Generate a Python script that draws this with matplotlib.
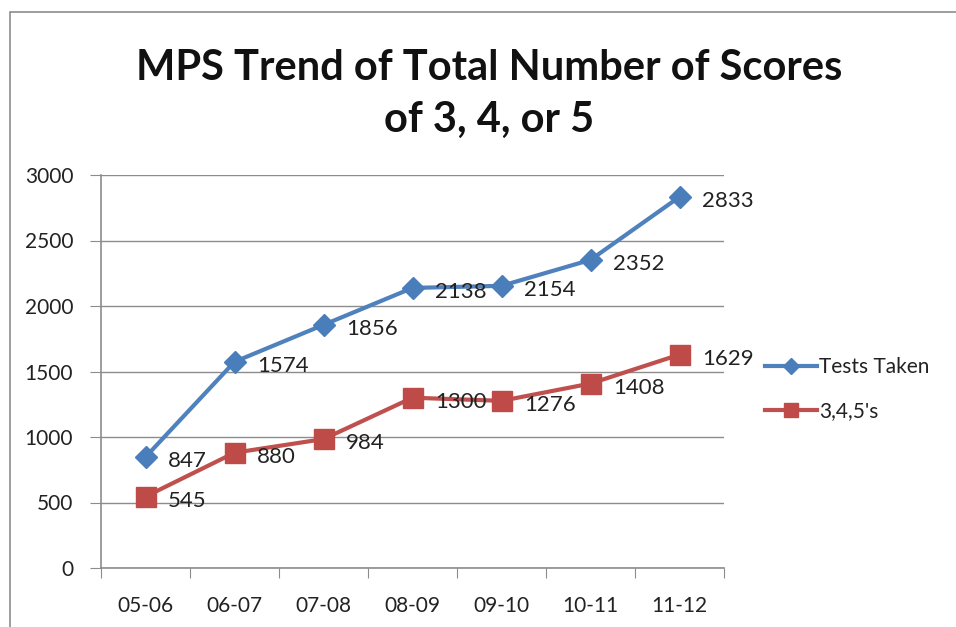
import matplotlib.pyplot as plt
from matplotlib.patches import Rectangle

# data
years = ['05-06', '06-07', '07-08', '08-09', '09-10', '10-11', '11-12']
tests_taken = [847, 1574, 1856, 2138, 2154, 2352, 2833]
scores_345 = [545, 880, 984, 1300, 1276, 1408, 1629]
yticks = [0, 500, 1000, 1500, 2000, 2500, 3000]

plt.rcParams['font.family'] = ['Lato', 'DejaVu Sans']

fig = plt.figure(figsize=(9.56, 6.27), dpi=100, facecolor='w')
# outer chart frame
fig.patches.append(Rectangle((10/956, -0.1), 1.2, 1 - 12/627 + 0.1, transform=fig.transFigure,
                             fill=False, edgecolor='#8c8c8c', linewidth=1.2))

ax = fig.add_axes([101/956, 1 - 568/627, (724 - 101)/956, (568 - 175)/627])

x = list(range(len(years)))
ax.plot(x, tests_taken, color='#4F81BD', linewidth=3, marker='D', markersize=11,
        markerfacecolor='#4A7EBB', markeredgecolor='#4A7EBB', label='Tests Taken', zorder=3)
ax.plot(x, scores_345, color='#C0504D', linewidth=3, marker='s', markersize=14,
        markerfacecolor='#BE4B48', markeredgecolor='#BE4B48', label="3,4,5's", zorder=3)

for xi, v in zip(x, tests_taken):
    ax.annotate(str(v), (xi, v), xytext=(16, -3), textcoords='offset points',
                va='center', ha='left', fontsize=16, color='#222222', zorder=4)
for xi, v in zip(x, scores_345):
    ax.annotate(str(v), (xi, v), xytext=(16, -3), textcoords='offset points',
                va='center', ha='left', fontsize=16, color='#222222', zorder=4)

ax.set_xlim(-0.5, len(years) - 0.5)
ax.set_ylim(0, 3000)
ax.set_yticks(yticks)
ax.set_yticklabels([str(t) for t in yticks])
ax.set_xticks([i - 0.5 for i in range(len(years) + 1)])
ax.set_xticklabels([])
ax.set_xticks(x, minor=True)
ax.set_xticklabels(years, minor=True)
ax.tick_params(axis='x', which='major', length=7, color='#8c8c8c', direction='out')
ax.tick_params(axis='x', which='minor', length=0, labelsize=15, pad=20, colors='#222222')
ax.tick_params(axis='y', length=8, color='#8c8c8c', labelsize=15, pad=12, labelcolor='#222222')

ax.grid(True, axis='y', color='#8c8c8c', linewidth=1)
ax.set_axisbelow(True)
for s in ['top', 'right']:
    ax.spines[s].set_visible(False)
for s in ['left', 'bottom']:
    ax.spines[s].set_color('#8c8c8c')
    ax.spines[s].set_linewidth(1.2)

fig.text(489/956, 1 - 68/627, 'MPS Trend of Total Number of Scores', ha='center', va='center',
         fontsize=30, fontweight='bold', color='#111111')
fig.text(489/956, 1 - 120/627, 'of 3, 4, or 5', ha='center', va='center',
         fontsize=30, fontweight='bold', color='#111111')

leg = ax.legend(loc='center left', bbox_to_anchor=(765/956, 1 - 389/627),
                bbox_transform=fig.transFigure, frameon=False, fontsize=15,
                handlelength=2.5, labelspacing=1.15, handletextpad=0.1,
                borderaxespad=0, borderpad=0, markerscale=0.75)
for t in leg.get_texts():
    t.set_color('#222222')

fig.savefig('out.png', dpi=100)
